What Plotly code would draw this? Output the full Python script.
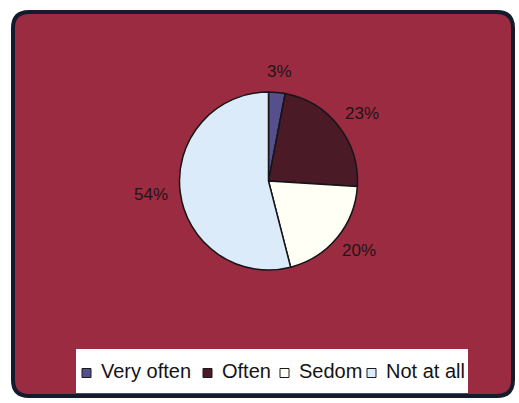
import math
import plotly.graph_objects as go

# Survey answer shares (percent)
categories = ["Very often", "Often", "Sedom", "Not at all"]
shares = [3, 23, 20, 54]
slice_colors = ["#55508c", "#4a1a26", "#fffff6", "#dcebfa"]

W, H = 519, 403
FONT = "Arial, Liberation Sans, sans-serif"
# pie placement in pixels
cx, cy, r = 268.5, 181.0, 89.0

fig = go.Figure(
    go.Pie(
        labels=categories,
        values=shares,
        sort=False,
        direction="clockwise",
        rotation=0,
        textinfo="none",
        hoverinfo="label+percent",
        showlegend=False,
        marker=dict(colors=slice_colors, line=dict(color="#161418", width=1.5)),
        domain=dict(x=[(cx - r) / W, (cx + r) / W],
                    y=[(H - cy - r) / H, (H - cy + r) / H]),
    )
)


def px(x, y):
    """pixel position -> paper coordinates"""
    return x / W, 1 - y / H


shapes = []
annotations = []

# percentage labels placed just outside each slice (outside-end style)
label_size = 17
total = sum(shares)
cum = 0.0
for v in shares:
    mid = (cum + v / 2) / total * 2 * math.pi
    cum += v
    txt = f"{v}%"
    half_w = 0.5 * label_size * (0.556 * (len(txt) - 1) + 0.889)
    half_h = 0.5 * label_size
    ux, uy = math.sin(mid), -math.cos(mid)
    lx = cx + (r + 12) * ux + half_w * ux
    ly = cy + (r + 12) * uy + half_h * uy
    x, y = px(lx, ly)
    annotations.append(dict(
        x=x, y=y, xref="paper", yref="paper", xanchor="center", yanchor="middle",
        text=txt, showarrow=False,
        font=dict(family=FONT, size=label_size, color="#1e1518"),
    ))

# rounded chart-area panel
x0, y0, x1, y1, rad = 13, 12, 513, 396, 16


def pp(x, y):
    a, b = px(x, y)
    return f"{a:.5f},{b:.5f}"


path = (
    f"M {pp(x0 + rad, y0)} L {pp(x1 - rad, y0)} Q {pp(x1, y0)} {pp(x1, y0 + rad)} "
    f"L {pp(x1, y1 - rad)} Q {pp(x1, y1)} {pp(x1 - rad, y1)} "
    f"L {pp(x0 + rad, y1)} Q {pp(x0, y1)} {pp(x0, y1 - rad)} "
    f"L {pp(x0, y0 + rad)} Q {pp(x0, y0)} {pp(x0 + rad, y0)} Z"
)
shapes.append(dict(type="path", path=path, xref="paper", yref="paper",
                   fillcolor="#9b2b40", line=dict(color="#151a2c", width=4), layer="below"))

# legend box with swatches
lx0, ly0, lx1, ly1 = 76, 349, 468, 393
a0, b0 = px(lx0, ly0)
a1, b1 = px(lx1, ly1)
shapes.append(dict(type="rect", xref="paper", yref="paper", x0=a0, x1=a1, y0=b1, y1=b0,
                   fillcolor="white", line=dict(width=0), layer="above"))
item_left = [82, 203, 280, 367]
sw, ymid = 9, 373
for name, col, xl in zip(categories, slice_colors, item_left):
    s0x, s0y = px(xl, ymid - sw / 2)
    s1x, s1y = px(xl + sw, ymid + sw / 2)
    shapes.append(dict(type="rect", xref="paper", yref="paper", x0=s0x, x1=s1x, y0=s1y, y1=s0y,
                       fillcolor=col, line=dict(color="#1a1a1a", width=1), layer="above"))
    tx, ty = px(xl + sw + 8, ymid - 2)
    annotations.append(dict(
        x=tx, y=ty, xref="paper", yref="paper", xanchor="left", yanchor="middle",
        text=name, showarrow=False,
        font=dict(family=FONT, size=20, color="#141414"),
    ))

fig.update_layout(
    width=W, height=H,
    margin=dict(l=0, r=0, t=0, b=0),
    paper_bgcolor="white",
    plot_bgcolor="white",
    shapes=shapes,
    annotations=annotations,
    showlegend=False,
)

fig.write_html("out.html")
